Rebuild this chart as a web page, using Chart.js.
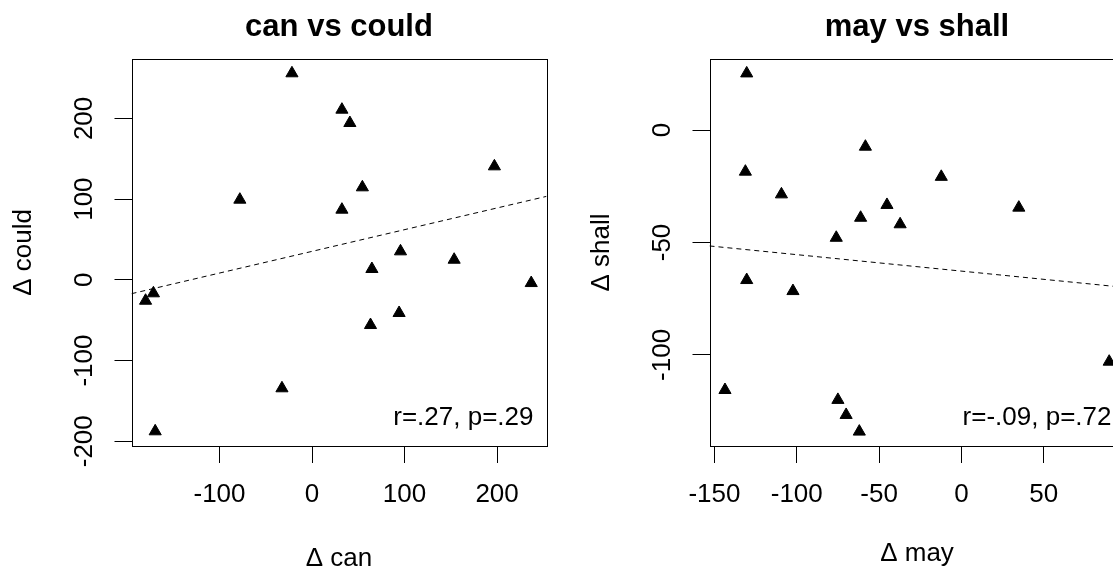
<!DOCTYPE html>
<html>
<head>
<meta charset="utf-8">
<title>can vs could / may vs shall</title>
<script src="https://cdn.jsdelivr.net/npm/chart.js@4.4.1/dist/chart.umd.min.js"></script>
<style>
  html, body { margin: 0; padding: 0; background: #fff; overflow: hidden; }
  #wrap { position: relative; width: 1113px; height: 568px; overflow: hidden; }
  #wrap canvas { position: absolute; top: 0; }
  #chart-left { left: 0; }
  #chart-right { left: 578px; }
</style>
</head>
<body>
<div id="wrap">
  <canvas id="chart-left" width="578" height="568"></canvas>
  <canvas id="chart-right" width="578" height="568"></canvas>
</div>
<script>
// Panel 1: can vs could
var canDelta   = [-21.7, 32.3, 40.9, 197.1, 54.4, -78, 32.3, 95.6, 153.6, 64.7, 236.9, -171.4, -179.9, 94.1, 63.2, -32.5, -169.5];
var couldDelta = [255.9, 210.8, 194.3, 140.6, 114.6, 99.3, 86.9, 35.3, 24.9, 13.4, -4, -16.7, -25.9, -41.1, -56, -134.4, -187.7];
var canRange   = [-195.1, 253.4];
var couldRange = [-205.9, 273.6];
var canTicks   = [-100, 0, 100, 200];
var couldTicks = [-200, -100, 0, 100, 200];
var canStats   = 'r=.27, p=.29';

// Panel 2: may vs shall
var mayDelta   = [-130.4, -58.3, -131.2, -12.2, -109.3, -45.2, 34.9, -61.2, -37.2, -76, -130.4, -102.3, 89.8, -143.6, -75, -70, -62];
var shallDelta = [25.2, -7.4, -18.5, -20.8, -28.6, -33.3, -34.5, -39, -41.9, -47.9, -66.7, -71.6, -103, -115.6, -120, -126.7, -134.1];
var mayRange   = [-153, 99.1];
var shallRange = [-140.5, 31.6];
var mayTicks   = [-150, -100, -50, 0, 50];
var shallTicks = [-100, -50, 0];
var mayStats   = 'r=-.09, p=.72';

var FONT = '"Liberation Sans", Arial, Helvetica, sans-serif';

// least squares line across the whole x range (like abline(lm(y ~ x)))
function fitLine(xs, ys, range) {
    var n = xs.length, mx = 0, my = 0, sxy = 0, sxx = 0;
    for (var i = 0; i < n; i++) { mx += xs[i]; my += ys[i]; }
    mx /= n; my /= n;
    for (var j = 0; j < n; j++) {
        sxy += (xs[j] - mx) * (ys[j] - my);
        sxx += (xs[j] - mx) * (xs[j] - mx);
    }
    var b = sxy / sxx, a = my - b * mx;
    return [{x: range[0], y: a + b * range[0]}, {x: range[1], y: a + b * range[1]}];
}

// fixed tick positions, R style
function fixedTicks(values) {
    return function(scale) {
        scale.ticks = values.map(function(v) { return {value: v}; });
    };
}

// box round the plot region
var framePlugin = {
    id: 'frame',
    afterDraw: function(chart) {
        var a = chart.chartArea, ctx = chart.ctx;
        ctx.save();
        ctx.strokeStyle = '#000';
        ctx.lineWidth = 1;
        ctx.strokeRect(Math.round(a.left) + 0.5, Math.round(a.top) + 0.5,
            Math.round(a.right - a.left), Math.round(a.bottom - a.top));
        ctx.restore();
    }
};

// r / p note in the bottom right corner
var statsPlugin = {
    id: 'stats',
    afterDraw: function(chart, args, opts) {
        var a = chart.chartArea, ctx = chart.ctx;
        ctx.save();
        ctx.font = '26px ' + FONT;
        ctx.fillStyle = '#000';
        ctx.textAlign = 'right';
        ctx.textBaseline = 'alphabetic';
        ctx.fillText(opts.text, a.right - 13, a.bottom - 21);
        ctx.restore();
    }
};

function makePanel(id, p) {
    var points = p.xs.map(function(x, i) { return {x: x, y: p.ys[i]}; });
    return new Chart(document.getElementById(id), {
        type: 'scatter',
        data: {
            datasets: [{
                data: points,
                pointStyle: 'triangle',
                pointRadius: 7,
                backgroundColor: '#000',
                borderColor: '#000',
                borderWidth: 1
            }, {
                data: fitLine(p.xs, p.ys, p.xRange),
                showLine: true,
                borderColor: '#000',
                borderWidth: 1,
                borderDash: [5, 4],
                pointRadius: 0,
                fill: false
            }]
        },
        options: {
            responsive: false,
            animation: false,
            layout: { padding: { left: 0, top: 0, right: 31.5, bottom: 0 } },
            plugins: {
                legend: { display: false },
                tooltip: { enabled: false },
                title: {
                    display: true,
                    text: p.title,
                    fullSize: false,
                    color: '#000',
                    font: { family: FONT, size: 31, weight: 'bold', lineHeight: 1.2 },
                    padding: { top: 9, bottom: 12.8 }
                },
                stats: { text: p.stats }
            },
            scales: {
                x: {
                    type: 'linear',
                    position: 'bottom',
                    min: p.xRange[0],
                    max: p.xRange[1],
                    afterBuildTicks: fixedTicks(p.xTicks),
                    afterFit: function(s) { s.height = 122; },
                    border: { display: false },
                    grid: { drawOnChartArea: false, drawTicks: true, tickLength: 17, color: '#000', lineWidth: 1 },
                    ticks: {
                        autoSkip: false,
                        minRotation: 0,
                        maxRotation: 0,
                        padding: 16.4,
                        color: '#000',
                        font: { family: FONT, size: 26 }
                    },
                    title: {
                        display: true,
                        text: p.xLabel,
                        color: '#000',
                        font: { family: FONT, size: 26, lineHeight: 1.2 },
                        padding: { top: 0, bottom: p.xTitlePad }
                    }
                },
                y: {
                    type: 'linear',
                    position: 'left',
                    min: p.yRange[0],
                    max: p.yRange[1],
                    afterBuildTicks: fixedTicks(p.yTicks),
                    afterFit: function(s) { s.width = 131.5; },
                    border: { display: false },
                    grid: { drawOnChartArea: false, drawTicks: true, tickLength: 17, color: '#000', lineWidth: 1 },
                    ticks: {
                        autoSkip: false,
                        minRotation: 90,
                        maxRotation: 90,
                        crossAlign: 'center',
                        padding: 3.2,
                        color: '#000',
                        font: { family: FONT, size: 26 }
                    },
                    title: {
                        display: true,
                        text: p.yLabel,
                        color: '#000',
                        font: { family: FONT, size: 26, lineHeight: 1.2 },
                        padding: { top: 8.4, bottom: 0 }
                    }
                }
            }
        },
        plugins: [framePlugin, statsPlugin]
    });
}

makePanel('chart-left', {
    title: 'can vs could', xLabel: 'Δ can', yLabel: 'Δ could',
    xs: canDelta, ys: couldDelta, xRange: canRange, yRange: couldRange,
    xTicks: canTicks, yTicks: couldTicks, stats: canStats, xTitlePad: -6.6
});

makePanel('chart-right', {
    title: 'may vs shall', xLabel: 'Δ may', yLabel: 'Δ shall',
    xs: mayDelta, ys: shallDelta, xRange: mayRange, yRange: shallRange,
    xTicks: mayTicks, yTicks: shallTicks, stats: mayStats, xTitlePad: -1.6
});
</script>
</body>
</html>
